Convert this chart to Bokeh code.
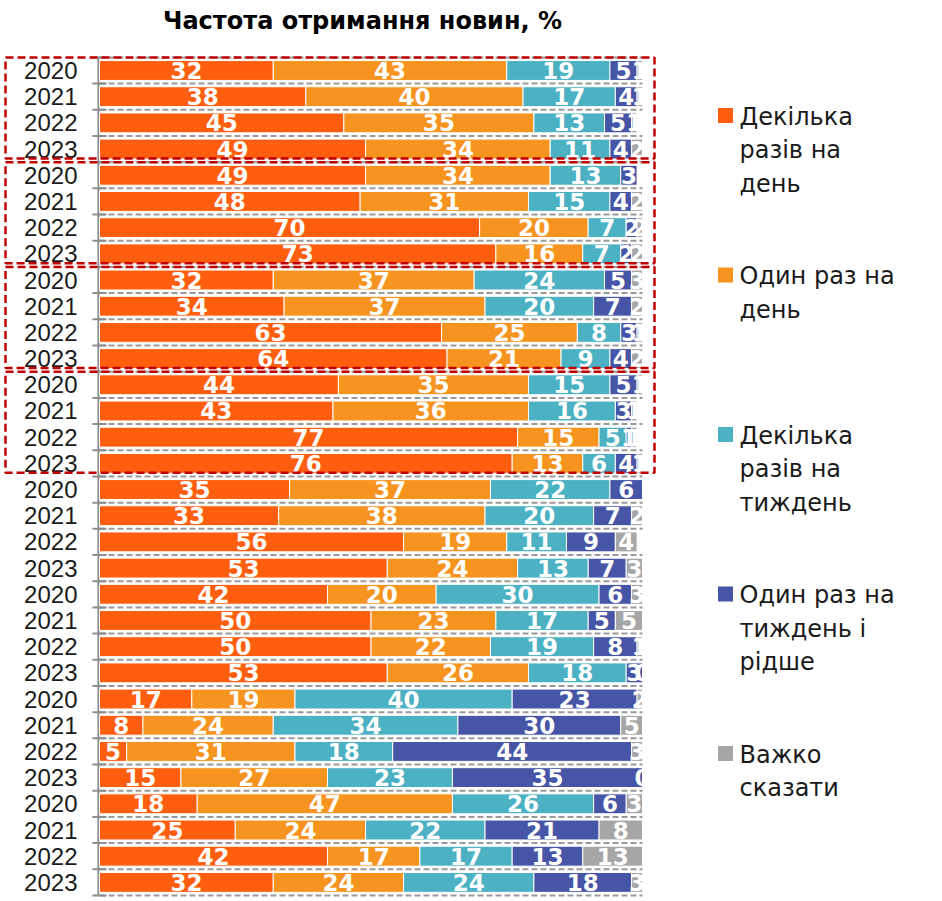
from bokeh.plotting import figure
from bokeh.models import Range1d
from bokeh.core.properties import value
from bokeh.embed import file_html
from bokeh.resources import INLINE

# ---------------- data ----------------
title_text = "Частота отримання новин, %"
years = ["2020", "2021", "2022", "2023"] * 8
series_names = [
    ["Декілька", "разів на", "день"],
    ["Один раз на", "день"],
    ["Декілька", "разів на", "тиждень"],
    ["Один раз на", "тиждень і", "рідше"],
    ["Важко", "сказати"],
]
several_day = [32, 38, 45, 49, 49, 48, 70, 73, 32, 34, 63, 64, 44, 43, 77, 76,
               35, 33, 56, 53, 42, 50, 50, 53, 17, 8, 5, 15, 18, 25, 42, 32]
once_day = [43, 40, 35, 34, 34, 31, 20, 16, 37, 37, 25, 21, 35, 36, 15, 13,
            37, 38, 19, 24, 20, 23, 22, 26, 19, 24, 31, 27, 47, 24, 17, 24]
several_week = [19, 17, 13, 11, 13, 15, 7, 7, 24, 20, 8, 9, 15, 16, 5, 6,
                22, 20, 11, 13, 30, 17, 19, 18, 40, 34, 18, 23, 26, 22, 17, 24]
once_week_less = [5, 4, 5, 4, 3, 4, 2, 2, 5, 7, 3, 4, 5, 3, 1, 4,
                  6, 7, 9, 7, 6, 5, 8, 3, 23, 30, 44, 35, 6, 21, 13, 18]
hard_to_say = [1, 1, 1, 2, None, 2, 2, 2, 3, 2, 1, 2, 1, 1, 1, 1,
               None, 2, 4, 3, 3, 5, 1, 0, 2, 5, 3, 0, 3, 8, 13, 3]
highlighted_groups = [0, 1, 2, 3]

series = [several_day, once_day, several_week, once_week_less, hard_to_say]
colors = ["#FF5E0E", "#F7941F", "#4BB1C3", "#4655A5", "#A6A6A6"]

# ---------------- layout ----------------
W, H = 940, 899
S = 5.43      # px per percent
X0 = 99       # px of x = 0
P = 26.19     # px per row
Y0 = 70       # px of row 0 centre

def px2x(px):
    return (px - X0) / S

def py2y(py):
    return (py - Y0) / P

p = figure(width=W, height=H,
           x_range=Range1d(-X0 / S, (W - X0) / S),
           y_range=Range1d((H - Y0) / P, -Y0 / P),
           output_backend="svg", toolbar_location=None,
           x_axis_location=None, y_axis_location=None,
           min_border=0)
p.grid.visible = False
p.outline_line_color = None
p.background_fill_color = "white"

n = len(years)
rows = list(range(n))

# gridlines (dashed) and tick marks
bounds = [r - 0.5 for r in range(n + 1)]
p.segment(x0=[0] * len(bounds), x1=[100] * len(bounds), y0=bounds, y1=bounds,
          line_color="#9a9a9a", line_width=2, line_dash="6 3")
p.segment(x0=[-1.3] * len(bounds), x1=[1.3] * len(bounds), y0=bounds, y1=bounds,
          line_color="#8e8e8e", line_width=2)
p.segment(x0=[-0.2], x1=[-0.2], y0=[-0.5], y1=[n - 0.5],
          line_color="#8e8e8e", line_width=2)

# stacked bars
cum = [0.0] * n
for vals, col in zip(series, colors):
    ys, lefts, rights, cx, cy, labs = [], [], [], [], [], []
    for i, v in enumerate(vals):
        if v is None:
            continue
        l = cum[i]
        r = l + v
        cum[i] = r
        lc, rc = min(l, 100), min(r, 100)
        if rc > lc:
            ys.append(i); lefts.append(lc); rights.append(rc)
        cx.append((lc + rc) / 2); cy.append(i); labs.append(str(v))
    p.hbar(y=ys, left=lefts, right=rights, height=0.76,
           fill_color=col, line_color="white", line_width=1)
    p.text(x=cx, y=cy, text=labs, text_align="center", text_baseline="middle",
           text_color="white", text_font=value("DejaVu Sans"),
           text_font_style="bold", text_font_size="23px")

# year labels
p.text(x=[px2x(77)] * n, y=rows, text=years, text_align="right",
       text_baseline="middle", text_color="#1a1a1a",
       text_font=value("Liberation Sans"), text_font_size="24px")

# highlight boxes
for g in highlighted_groups:
    top = 4 * g - 0.5
    bot = 4 * g + 3.36
    lft, rgt = px2x(5), px2x(654)
    p.multi_line(xs=[[lft, rgt, rgt, lft, lft]], ys=[[top, top, bot, bot, top]],
                 line_color="#C00000", line_width=2.5, line_dash="8 4")

# title
p.text(x=[px2x(362)], y=[py2y(20)], text=[title_text], text_align="center",
       text_baseline="middle", text_color="black",
       text_font=value("DejaVu Sans"), text_font_style="bold",
       text_font_size="24px")

# legend
for k, (lines, col) in enumerate(zip(series_names, colors)):
    sq_py = 115 + k * 159.5
    p.scatter(x=[px2x(725)], y=[py2y(sq_py)], marker="square", size=15,
              fill_color=col, line_color=None)
    p.text(x=[px2x(739)] * len(lines),
           y=[py2y(sq_py + 1 + i * 33.5) for i in range(len(lines))],
           text=lines, text_align="left", text_baseline="middle",
           text_color="#1a1a1a", text_font=value("DejaVu Sans"),
           text_font_size="24px")

open("out.html", "w").write(file_html(p, INLINE))
